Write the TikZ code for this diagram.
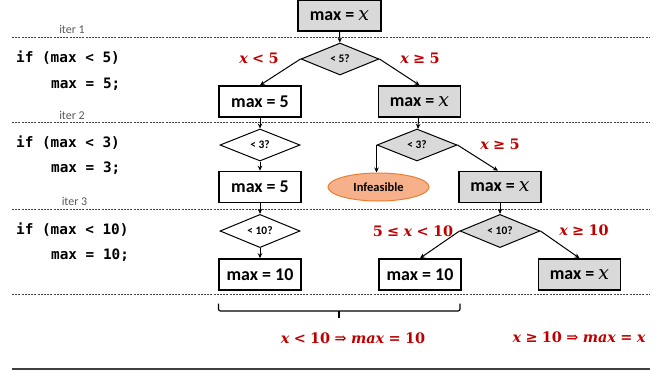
\documentclass[tikz,border=0pt]{standalone}
\usepackage[no-math]{fontspec}
\usetikzlibrary{shapes.geometric,arrows.meta}
\newfontfamily\boxfont{Carlito}
\newfontfamily\codefont{DejaVu Sans Mono}
\newfontfamily\formfont{DejaVu Serif}
% a variable in a formula, and a relation with its spacing
\newcommand\vb[1]{{\itshape #1}}
\newcommand\rl[1]{\hspace{0.3em}#1\hspace{0.3em}}
\newcommand\bx{{\formfont\mdseries\itshape\fontsize{19}{19}\selectfont x}}
\definecolor{condred}{RGB}{192,0,0}
\definecolor{boxgray}{RGB}{217,217,217}
\definecolor{rulegray}{RGB}{64,64,64}
\definecolor{itergray}{RGB}{89,89,89}
\definecolor{infill}{RGB}{246,176,138}
\definecolor{inline}{RGB}{237,125,49}
\tikzset{
  stmt/.style={draw, line width=1.6bp, minimum width=82bp, minimum height=31bp,
    inner sep=0pt, font=\boxfont\bfseries\fontsize{18}{18}\selectfont},
  stmtx/.style={stmt, fill=boxgray},
  test/.style={draw, diamond, line width=1bp, minimum width=80bp, minimum height=32bp,
    inner sep=0pt, font=\boxfont\bfseries\fontsize{11.5}{11.5}\selectfont},
  testx/.style={test, fill=boxgray},
  dead/.style={draw=inline, fill=infill, ellipse, line width=1bp, minimum width=101bp,
    minimum height=28bp, inner sep=0pt, font=\boxfont\bfseries\fontsize{12.5}{12.5}\selectfont},
  cond/.style={text=condred, inner sep=0pt, font=\formfont\bfseries\fontsize{14.5}{14.5}\selectfont},
  code/.style={anchor=west, inner sep=0pt, font=\codefont\bfseries\fontsize{14.4}{14.4}\selectfont},
  iterlbl/.style={inner sep=0pt, text=itergray, font=\boxfont\fontsize{12}{12}\selectfont},
  sep/.style={rulegray, line width=1bp, dash pattern=on 2bp off 1.2bp},
  flow/.style={line width=1bp, -{Stealth[length=5bp,width=4.5bp]}},
}
\begin{document}
\begin{tikzpicture}[x=1bp,y=-1bp]
\useasboundingbox (0,0) rectangle (662,372);

% iteration separators
\draw[sep] (12,37) -- (649,37);
\draw[sep] (12,122.7) -- (649,122.7);
\draw[sep] (12,209.3) -- (649,209.3);
\draw[sep] (12,294.3) -- (649,294.3);
\draw[rulegray, line width=1.4bp] (12,369) -- (650,369);

\node[iterlbl] (it1) at (72,29) {iter 1};
\node[iterlbl] (it2) at (72,115) {iter 2};
\node[iterlbl] (it3) at (74.5,201.5) {iter 3};

% source code
\node[code] (c1a) at (16,58) {if (max < 5)};
\node[code] (c1b) at (51,84) {max = 5;};
\node[code] (c2a) at (16,143) {if (max < 3)};
\node[code] (c2b) at (51,168) {max = 3;};
\node[code] (c3a) at (16,230) {if (max < 10)};
\node[code] (c3b) at (51,255.5) {max = 10;};

% execution tree
\node[stmtx, minimum width=83bp] (top) at (339.5,15.5) {max = \bx};
\node[testx, minimum width=78bp] (d1) at (340,59) {< 5?};
\node[stmt] (b1L) at (260,101.5) {max = 5};
\node[stmtx] (b1R) at (419.5,101.5) {max = \bx};
\node[test] (d2L) at (260,145) {< 3?};
\node[testx] (d2R) at (417,145) {< 3?};
\node[stmt] (b2L) at (260,187) {max = 5};
\node[dead] (inf) at (378.5,187) {Infeasible};
\node[stmtx] (b2R) at (500,187) {max = \bx};
\node[test] (d3L) at (260,231) {< 10?};
\node[testx] (d3R) at (500,231) {< 10?};
\node[stmt] (b3L) at (260,274.5) {max = 10};
\node[stmt] (b3M) at (420,274.5) {max = 10};
\node[stmtx] (b3R) at (579.5,274.5) {max = \bx};

\draw[flow] (top) -- (d1);
\draw[flow] (d1.west) -- (b1L.north);
\draw[flow] (d1.east) -- (b1R.north);
\draw[flow] (b1L) -- (d2L);
\draw[flow] (b1R) -- (d2R);
\draw[flow] (d2L) -- (b2L);
\draw[flow] (d2R.west) -- (d2R.west |- inf.north);
\draw[flow] (d2R.east) -- ([xshift=-2bp]b2R.north);
\draw[flow] (b2L) -- (d3L);
\draw[flow] (b2R) -- (d3R);
\draw[flow] (d3L) -- (b3L);
\draw[flow] (d3R.west) -- (b3M.north);
\draw[flow] (d3R.east) -- (b3R.north);

% path conditions
\node[cond] (l1) at (259,58) {\vb{x}\rl{<}5};
\node[cond] (l2) at (420,58) {\vb{x}\rl{≥}5};
\node[cond] (l3) at (500,144) {\vb{x}\rl{≥}5};
\node[cond] (l4) at (413,231) {5\rl{≤}\vb{x}\rl{<}10};
\node[cond] (l5) at (584,230) {\vb{x}\rl{≥}10};

% summary of the merged paths
\draw[line width=1.2bp, rounded corners=2bp] (218.5,303.5) -- (218.5,311) -- (460,311) -- (460,303.5);
\draw[line width=1.2bp] (339,311) -- (339,318);
\node[cond] (s1) at (353,338) {\vb{x}\rl{<}10\rl{⇒}\vb{max}\rl{=}10};
\node[cond] (s2) at (579,337) {\vb{x}\rl{≥}10\rl{⇒}\vb{max}\rl{=}\vb{x}};
\end{tikzpicture}
\end{document}
